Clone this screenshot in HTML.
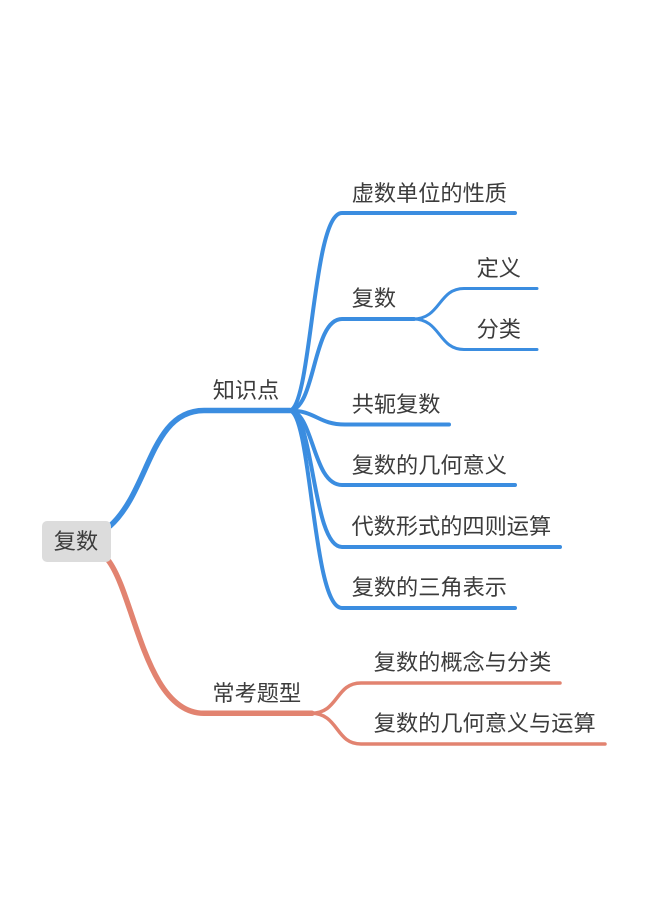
<!DOCTYPE html>
<html><head><meta charset="utf-8">
<style>
html,body{margin:0;padding:0;background:#fff}
svg{display:block}
text{font-family:"Liberation Sans","WenQuanYi Zen Hei",sans-serif;font-size:22.200px;fill:#3c3c3c}
</style></head>
<body>
<svg width="646" height="916" viewBox="0 0 646 916" xmlns="http://www.w3.org/2000/svg" fill="none" stroke-linecap="round">
<g stroke="#3b8de0">
<path d="M110 526C150 490 150 410.500 204 410.500H290" stroke-width="5.500"/>
<g stroke-width="4">
<path d="M289 410.500C312 410.500 312 213 342 213H515"/>
<path d="M289 410.500C316 410.500 312 319 342 319H414"/>
<path d="M289 410.500C316 410.500 318 424.500 345 424.500H449"/>
<path d="M289 410.500C314 410.500 312 485 342 485H515"/>
<path d="M289 410.500C314 410.500 312 547 342 547H560"/>
<path d="M289 410.500C312 410.500 312 608 342 608H515"/>
</g>
<g stroke-width="3">
<path d="M413 319C441 319 438 288.500 464 288.500H537"/>
<path d="M413 319C441 319 438 349.500 464 349.500H537"/>
</g>
</g>
<g stroke="#e28370">
<path d="M108 560C135 595 145 713.300 204 713.300H312" stroke-width="5.500"/>
<g stroke-width="3.500">
<path d="M311 713.300C339 713.300 335 683 361 683H560"/>
<path d="M311 713.300C339 713.300 335 744 361 744H605"/>
</g>
</g>
<rect x="42" y="521" width="69" height="41" rx="5" fill="#dcdcdc"/>
<text x="53.800" y="549">复数</text>
<text x="212.700" y="398">知识点</text>
<text x="212.400" y="701">常考题型</text>
<text x="351.700" y="201">虚数单位的性质</text>
<text x="351.700" y="306">复数</text>
<text x="476.600" y="276">定义</text>
<text x="476.600" y="337">分类</text>
<text x="351.700" y="412">共轭复数</text>
<text x="351.700" y="473">复数的几何意义</text>
<text x="351.500" y="534">代数形式的四则运算</text>
<text x="351.700" y="595">复数的三角表示</text>
<text x="373.800" y="670">复数的概念与分类</text>
<text x="373.800" y="731">复数的几何意义与运算</text>
</svg>
</body></html>
